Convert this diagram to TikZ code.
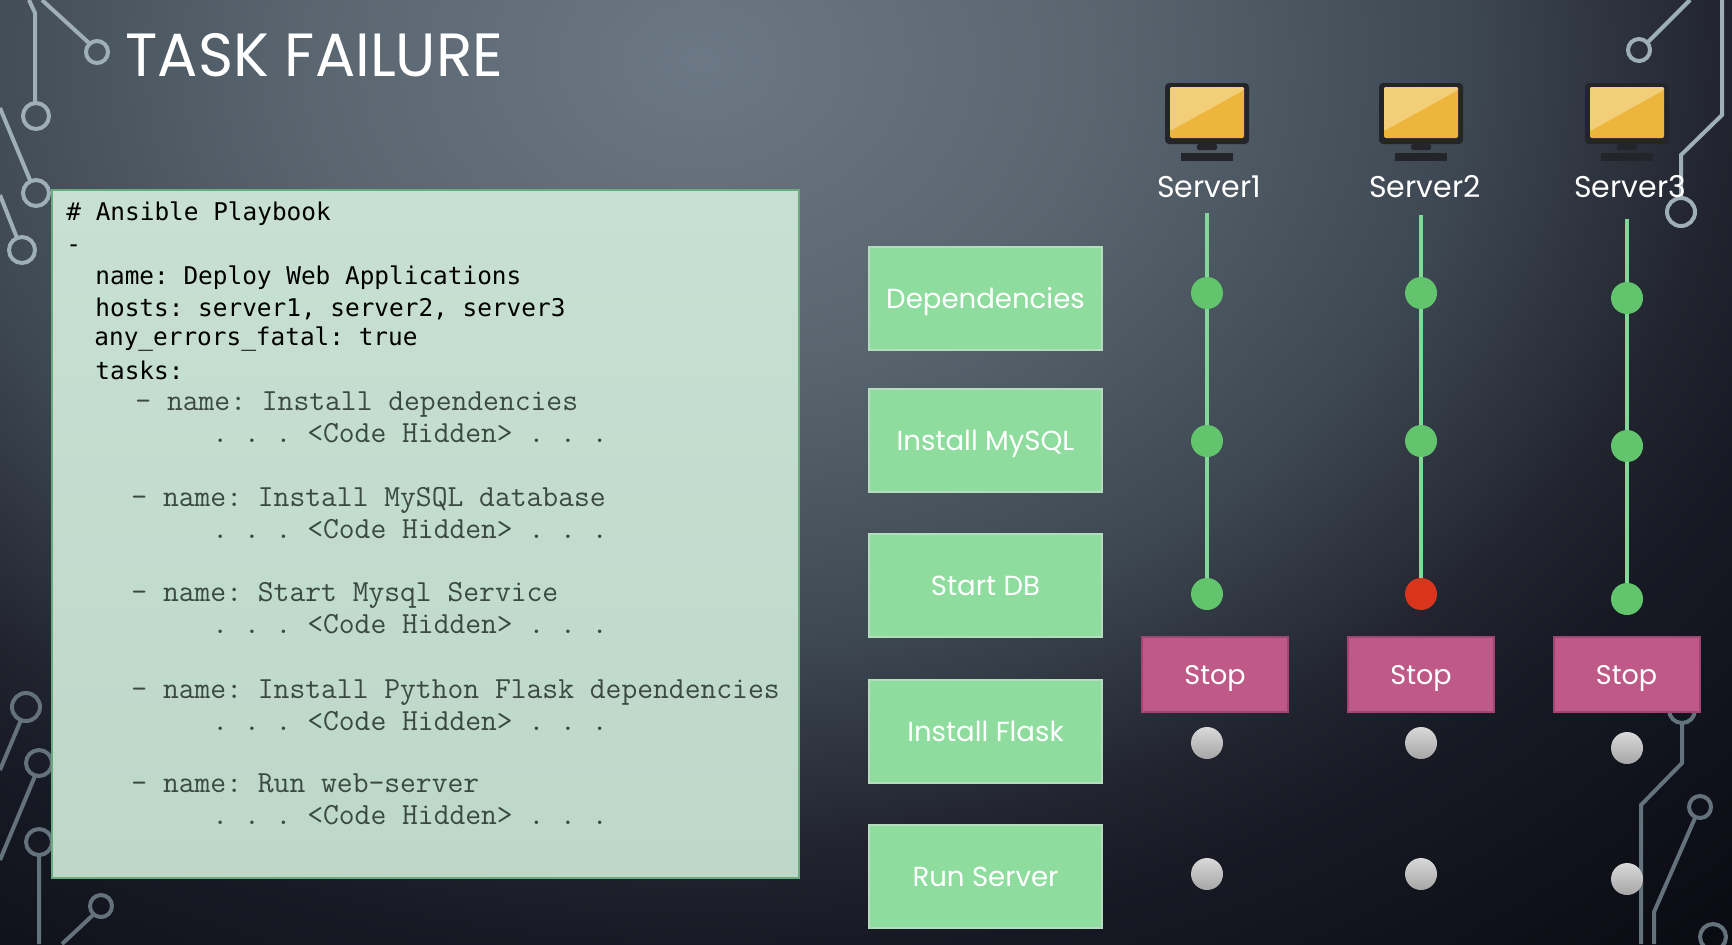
\documentclass[tikz,border=0pt]{standalone}
\usepackage{fontspec}
\setmainfont{Poppins}
\newfontfamily\codefont{DejaVu Sans Mono}
\newfontfamily\titlefont[FakeStretch=.98]{Poppins}
\definecolor{traceup}{HTML}{9FAFB8}
\definecolor{tracelow}{HTML}{64727C}
\definecolor{paneltop}{HTML}{C7E0D3}
\definecolor{panelbot}{HTML}{BDD7C9}
\definecolor{paneledge}{HTML}{6AAA7C}
\definecolor{codegray}{HTML}{3A4A42}
\definecolor{taskfill}{HTML}{8FDC9F}
\definecolor{taskedge}{HTML}{B5DCBE}
\definecolor{stopfill}{HTML}{BF5A88}
\definecolor{stopedge}{HTML}{A04672}
\definecolor{okgreen}{HTML}{63C46E}
\definecolor{linkgreen}{HTML}{80D997}
\definecolor{failred}{HTML}{D9351C}
\definecolor{monframe}{HTML}{23252A}
\definecolor{monscreen}{HTML}{EDB53B}
\definecolor{monshine}{HTML}{F3CE78}
\pgfdeclareradialshading{slidebg}{\pgfpoint{0bp}{0bp}}{%
  rgb(0bp)=(.42,.47,.52);
  rgb(6.25bp)=(.35,.40,.44);
  rgb(12.3bp)=(.24,.28,.32);
  rgb(16.5bp)=(.13,.14,.18);
  rgb(18.5bp)=(.09,.10,.14);
  rgb(25bp)=(.035,.04,.07);
  rgb(50bp)=(.035,.04,.07)}
\tikzset{
  trace/.style={line width=2pt},
  taskbox/.style={draw=taskedge,line width=1.2pt,fill=taskfill,minimum width=116.5pt,minimum height=51.5pt,text=white,text height=9.5pt,text depth=0pt,font=\fontsize{13.8}{16}\selectfont},
  stopbox/.style={draw=stopedge,line width=1pt,fill=stopfill,minimum width=73pt,minimum height=37.5pt,text=white,text height=9.5pt,text depth=0pt,font=\fontsize{13.5}{16}\selectfont},
  okdot/.style={circle,fill=okgreen,minimum size=16pt,inner sep=0pt},
  faildot/.style={circle,fill=failred,minimum size=16pt,inner sep=0pt},
  idledot/.style={circle,top color=gray!30,bottom color=gray!70,minimum size=16pt,inner sep=0pt},
  link/.style={draw=linkgreen,line width=2pt},
  codetop/.style={anchor=base west,inner sep=0pt,text=black,font=\codefont\fontsize{12.2}{14}\selectfont\frenchspacing},
  codelow/.style={anchor=base west,inner sep=0pt,text=codegray,font=\ttfamily\fontsize{15.35}{17}\selectfont\frenchspacing},
}
\begin{document}
\begin{tikzpicture}[x=.5pt,y=-.5pt]
	\useasboundingbox(0,0)rectangle(1732,944);
	\begin{scope}
	\clip(0,0)rectangle(1732,944);
	\shade[shading=slidebg](700,60)ellipse(1560 and 1200);
	% circuit traces
	\begin{scope}[trace,draw=traceup]
		\draw(29,0)--(35,13)--(35,103)(36,116)circle(13);
		\draw(42,0)--(89,43)(97,52)circle(11);
		\draw(0,108)--(30,180)(36,193)circle(13);
		\draw(0,195)--(17,238)(22,250)circle(13);
		\draw(1690,0)--(1648,42)(1639,50)circle(11);
		\draw(1722,0)--(1722,115)--(1681,155)--(1681,197)(1681,212)circle(14);
	\end{scope}
	\begin{scope}[trace,draw=tracelow]
		\draw(21,720)--(0,770)(26,707)circle(14);
		\draw(35,776)--(0,860)(39,763)circle(13);
		\draw(39,855)--(39,944)(39,842)circle(13);
		\draw(93,915)--(62,944)(101,906)circle(11);
		\draw(1682,722)--(1682,763)--(1641,805)--(1641,944)(1682,710)circle(13);
		\draw(1695,818)--(1654,912)--(1654,944)(1700,807)circle(11);
		\draw(1713,937)circle(13);
	\end{scope}
	\end{scope}
	\node[inner sep=0pt,anchor=base west,text=white,font=\titlefont\fontsize{30.5}{34}\selectfont] (title) at (125,76) {TASK FAILURE};
	% playbook
	\node[draw=paneledge,line width=1.2pt,top color=paneltop,bottom color=panelbot,minimum width=373.5pt,minimum height=344pt] (panel) at (425.5,534) {};
	\foreach \x/\y/\t [count=\n] in {66/220/{\# Ansible Playbook},66/252/{-},95/284/{name: Deploy Web Applications},95/316/{hosts: server1, server2, server3},94/345/{any\_errors\_fatal: true},95/379/{tasks:}}
		\node[codetop] (top\n) at (\x,\y) {\t};
	\foreach \x/\y/\t [count=\n] in {135/410/{- name: Install dependencies},131/506/{- name: Install MySQL database},131/601/{- name: Start Mysql Service},131/698/{- name: Install Python Flask dependencies},131/792/{- name: Run web-server}}{
		\node[codelow] (task\n) at (\x,\y) {\t};
		\node[codelow] (hidden\n) at (212,\y+32) {. . . <Code Hidden> . . .};
	}
	% tasks
	\node[taskbox] (dep) at (985.5,298.5) {Dependencies};
	\node[taskbox] (mysql) at (985.5,440.5) {Install MySQL};
	\node[taskbox] (startdb) at (985.5,585.5) {Start DB};
	\node[taskbox] (flask) at (985.5,731.5) {Install Flask};
	\node[taskbox] (runsrv) at (985.5,876.5) {Run Server};
	% servers
	\foreach \c/\cx/\dy/\ty/\lx/\sx/\st in {1/1207/0/213/1209/1215/okdot,2/1421/0/215/1425/1421/faildot,3/1627/5/219/1630/1626.5/okdot}{
		\fill[monframe,rounded corners=2](\cx-42,83)rectangle(\cx+42,144);
		\fill[monscreen,rounded corners=1](\cx-37,87)rectangle(\cx+37,138);
		\fill[monshine,rounded corners=1](\cx-37,87)--(\cx+37,87)--(\cx+37,90)--(\cx-37,131)--cycle;
		\fill[monframe,rounded corners=1](\cx-10,144)rectangle(\cx+10,150);
		\fill[monframe](\cx-26,153)rectangle(\cx+26,161);
		\node[text=white,inner sep=0pt,font=\fontsize{15}{16}\selectfont] (label\c) at (\lx,187) {Server\c};
		\coordinate (start\c) at (\cx,\ty);
		\node[okdot] (a\c) at (\cx,293+\dy) {};
		\node[okdot] (b\c) at (\cx,441+\dy) {};
		\node[\st] (c\c) at (\cx,594+\dy) {};
		\node[idledot] (d\c) at (\cx,743+\dy) {};
		\node[idledot] (e\c) at (\cx,874+\dy) {};
		\draw[link](start\c)--(a\c);
		\draw[link](a\c)--(b\c);
		\draw[link](b\c)--(c\c);
		\node[stopbox] (stop\c) at (\sx,674.5) {Stop};
	}
\end{tikzpicture}
\end{document}
